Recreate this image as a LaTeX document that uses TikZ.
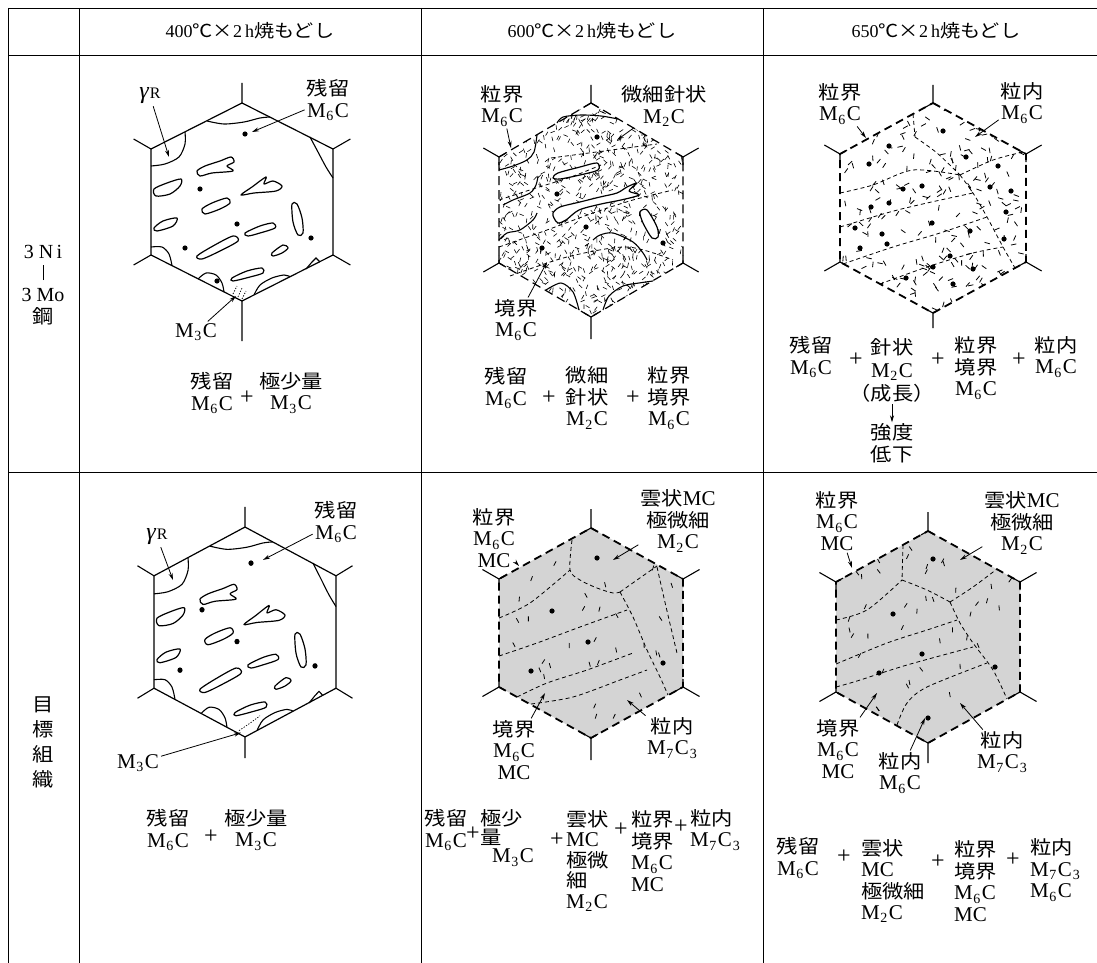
\documentclass[tikz,border=0pt]{standalone}
\usepackage{fontspec}
\setmainfont{Liberation Serif}
\newfontfamily\jp{Noto Sans CJK JP}[FakeStretch=1.12]
\usetikzlibrary{arrows.meta,calc}

% carbide formulas
\newcommand\carb[1]{{\rmfamily\fontsize{21}{21}\selectfont M\kern.5pt\raisebox{-.35ex}{\fontsize{14}{14}\selectfont#1}\kern1.5pt C}}
\newcommand\carbb[2]{{\rmfamily\fontsize{21}{21}\selectfont M\kern.5pt\raisebox{-.35ex}{\fontsize{14}{14}\selectfont#1}\kern1.5pt C\kern1pt\raisebox{-.35ex}{\fontsize{14}{14}\selectfont#2}}}
\newcommand\mc{{\rmfamily\fontsize{21}{21}\selectfont MC}}

% hexagonal grain: half width, half height, corner offset
\newcommand\hexat[3]{%
  \coordinate (T) at (0,-#2); \coordinate (UR) at (#1,-#3);
  \coordinate (LR) at (#1,#3); \coordinate (B) at (0,#2);
  \coordinate (LL) at (-#1,#3); \coordinate (UL) at (-#1,-#3);}
% neighbouring grain boundaries at the six triple points
\newcommand\stubs[2]{%
  \draw[stub] (T) -- ++(0,-#1) (UR) -- ++(0.87*#1,-0.5*#1) (LR) -- ++(0.87*#1,0.5*#1)
    (B) -- ++(0,#2) (LL) -- ++(-0.87*#1,0.5*#1) (UL) -- ++(-0.87*#1,-0.5*#1);}
\newcommand\joints{%
  \draw[stub] ($(T)!8pt!(UL)$) -- (T) -- ($(T)!8pt!(UR)$)
    ($(UR)!8pt!(T)$) -- (UR) -- ($(UR)!8pt!(LR)$)
    ($(LR)!8pt!(UR)$) -- (LR) -- ($(LR)!8pt!(B)$)
    ($(B)!8pt!(LR)$) -- (B) -- ($(B)!8pt!(LL)$)
    ($(LL)!8pt!(B)$) -- (LL) -- ($(LL)!8pt!(UL)$)
    ($(UL)!8pt!(LL)$) -- (UL) -- ($(UL)!8pt!(T)$);}
\newcommand\hexpath{(T)--(UR)--(LR)--(B)--(LL)--(UL)--cycle}

% retained austenite islands and corner patches of the lath grain
\newcommand\lathgrain{%
  \draw[isl] plot[smooth cycle] coordinates {(-45,-31) (-37,-36) (-22,-41) (-11,-45) (-8,-40) (-15,-36) (-9,-31) (-30,-29) (-42,-26)};
  \draw[isl] plot[smooth cycle] coordinates {(-1,-7) (10,-15) (24,-25) (22,-18) (31,-21) (40,-16) (34,-11) (12,-9)};
  \draw[isl] plot[smooth cycle] coordinates {(-88,-13) (-75,-19) (-61,-23) (-62,-16) (-72,-8) (-86,-6)};
  \draw[isl] plot[smooth cycle] coordinates {(-40,7) (-30,1) (-15,-4) (-12,1) (-22,7) (-37,12)};
  \draw[isl] plot[smooth cycle] coordinates {(-88,26) (-79,19) (-65,16) (-69,24) (-85,29)};
  \draw[isl] plot[smooth cycle] coordinates {(3,31) (18,24) (31,21) (33,26) (18,31) (6,34)};
  \draw[isl] plot[smooth cycle] coordinates {(50,2) (55,2) (60,16) (61,31) (56,33) (51,20)};
  \draw[isl] plot[smooth cycle] coordinates {(-45,54) (-29,44) (-9,34) (-4,39) (-22,49) (-40,57)};
  \draw[isl] plot[smooth cycle] coordinates {(30,51) (41,43) (46,46) (40,51) (31,54)};
  \draw[isl] plot[smooth cycle] coordinates {(-10,76) (5,69) (20,66) (21,71) (8,75) (-9,79)};
  \draw[cpatch] plot[smooth] coordinates {(-57,-70) (-57,-58) (-63,-45) (-77,-38) (-91,-36)};
  \draw[cpatch] plot[smooth] coordinates {(-35,-81) (-18,-78) (2,-80) (18,-84) (28,-85)};
  \draw[cpatch] plot[smooth] coordinates {(68,-65) (76,-50) (84,-35) (91,-24)};
  \draw[cpatch] (64,67) -- (70,60) -- (74,56) -- (78,60);
  \draw[cpatch] plot[smooth] coordinates {(-91,45) (-80,45) (-73,52) (-70,63.6)};
  \draw[cpatch] plot[smooth] coordinates {(-44,77) (-36,71) (-26,73) (-20,81) (-18,90)};
  \draw[cpatch] plot[smooth] coordinates {(12,93) (18,83) (30,76) (42,73) (48,74.7)};}

\tikzset{
  tline/.style={line width=0.9pt},
  gline/.style={line width=1.2pt, line join=round},
  stub/.style={line width=1.1pt},
  cpatch/.style={line width=1.1pt},
  isl/.style={line width=1.2pt, line join=round},
  dhex/.style={line width=1.2pt, dash pattern=on 9pt off 5pt},
  dhexb/.style={line width=1.8pt, dash pattern=on 8pt off 5pt},
  fine/.style={line width=0.8pt, dash pattern=on 4pt off 3pt},
  needle/.style={line width=0.6pt},
  speck/.style={line width=0.8pt},
  arr/.style={line width=0.8pt, -{Stealth[length=7pt,width=4pt]}, shorten <=1pt},
  lbl/.style={font=\jp\fontsize{19}{21.5}\selectfont, inner sep=1pt, align=center},
  lbll/.style={font=\jp\fontsize{19}{21.5}\selectfont, inner sep=1pt, align=left},
  plus/.style={font=\rmfamily\fontsize{24}{24}\selectfont, inner sep=0pt},
  hd/.style={font=\jp\fontsize{18}{20}\selectfont, inner sep=0pt},
}

\begin{document}
\begin{tikzpicture}[x=1pt,y=-1pt]
\useasboundingbox (0,0) rectangle (1097,963);
\fill[white] (0,0) rectangle (1097,963);

% ---------------- table rules ----------------
\draw[tline] (8,8) -- (1097,8) (8,55) -- (1097,55) (8,472) -- (1097,472);
\draw[tline] (8,8) -- (8,963) (79,8) -- (79,963) (421,8) -- (421,963) (763,8) -- (763,963);

% ---------------- headings ----------------
\node[hd] (h1) at (250,31) {{\rmfamily 400}℃×{\rmfamily 2\,h}焼もどし};
\node[hd] (h2) at (592,31) {{\rmfamily 600}℃×{\rmfamily 2\,h}焼もどし};
\node[hd] (h3) at (936,31) {{\rmfamily 650}℃×{\rmfamily 2\,h}焼もどし};
\node[lbl] (alloy) at (43,285) {{\rmfamily\fontsize{20}{20}\selectfont 3 N\,i}\\\rule{0.7pt}{15pt}\\{\rmfamily\fontsize{20}{20}\selectfont 3 Mo}\\鋼};
\node[lbl, font=\jp\fontsize{19}{25}\selectfont] (goal) at (43,742) {目\\標\\組\\織};

% =============== 400 C, 3Ni-3Mo ===============
\begin{scope}[shift={(242,202)}]
  \hexat{91}{99}{53}
  \draw[gline] \hexpath;
  \stubs{20}{40}
  \lathgrain
  \foreach \p in {(3,-68),(-42,-13),(-5,22),(-57,46),(-25,79),(69,36)} \fill \p circle (2.6pt);
  \draw[line width=0.7pt, dash pattern=on 1.3pt off 1.5pt] (-9,92) -- (-5,84) (-4,95) -- (0,86) (0,97) -- (4,89);
  \coordinate (g1t) at (-73,-45);
  \coordinate (r1t) at (10,-70);
  \coordinate (m1t) at (-6,94);
\end{scope}
\node[inner sep=1pt] (gam1) at (150,96) {{\rmfamily\itshape\fontsize{24}{24}\selectfont γ}\kern1pt{\rmfamily\fontsize{16}{16}\selectfont R}};
\draw[arr] (gam1) -- (g1t);
\node[lbl] (res1) at (328,100) {残留\\\carb{6}};
\draw[arr] (res1) -- (r1t);
\node[lbl] (m31) at (196,332) {\carb{3}};
\draw[arr] (m31) -- (m1t);
\node[lbl] (f1a) at (212,393) {残留\\\carb{6}};
\node[plus] (f1p) at (247,398) {+};
\node[lbl] (f1b) at (291,393) {極少量\\\carb{3}};

% =============== 600 C, 3Ni-3Mo ===============
\begin{scope}[shift={(591,210)}]
  \hexat{92}{107}{53}
  \begin{scope}
    \clip \hexpath;
    \pgfmathsetseed{21}
    \foreach \k in {1,...,1000}{%
      \pgfmathsetmacro\rx{92*rand}%
      \pgfmathsetmacro\ry{107*rand}%
      \pgfmathsetmacro\ra{90+70*rand}%
      \draw[needle] (\rx,\ry) -- ++(\ra:4.5);}
  \end{scope}
  \draw[dhex] \hexpath;
  \joints
  \stubs{18}{22}
  % precipitate-free islands and boundary films
  \draw[isl, fill=white] plot[smooth cycle] coordinates {(-38,-32) (-33,-37) (-11,-43) (6,-47) (7,-40) (-11,-35) (-31,-31)};
  \draw[isl, fill=white] plot[smooth cycle] coordinates {(-38,3) (-31,-3) (-11,-8) (9,-13) (26,-17) (36,-23) (46,-27) (38,-19) (48,-15) (30,-10) (10,-6) (-12,0) (-25,10) (-33,13) (-37,8)};
  \draw[isl, fill=white] plot[smooth cycle] coordinates {(49,2) (56,0) (66,17) (67,27) (61,28) (52,13)};
  \draw[cpatch] plot[smooth] coordinates {(-34,-87) (-28,-93) (-10,-95) (10,-94) (27,-91)};
  \draw[cpatch] plot[smooth] coordinates {(-92,-40) (-78,-44) (-64,-50) (-57,-58) (-54,-75)};
  \draw[cpatch] plot[smooth] coordinates {(-88,-5) (-78,-10) (-61,-17) (-55,-25) (-53,-34)};
  \draw[cpatch] plot[smooth] coordinates {(2,30) (9,25) (22,23) (42,32) (52,43) (56,50)};
  \draw[cpatch] plot[smooth] coordinates {(-92,30) (-84,23) (-71,20) (-58,10) (-54,3)};
  \draw[cpatch] plot[smooth] coordinates {(-45,80) (-30,73) (-18,82) (-12,100)};
  \draw[cpatch] plot[smooth] coordinates {(12,100) (18,86) (32,76) (48,73) (62,71)};
  % sub-boundaries
  \draw[fine] (-40,-52) -- (66,-66);
  \draw[fine] plot[smooth] coordinates {(-92,-10) (-55,-22) (-20,-33) (10,-45)};
  \draw[fine] plot[smooth] coordinates {(-92,37) (-44,20) (2,3) (42,-10) (82,-20)};
  \draw[fine] plot[smooth] coordinates {(-81,66) (-24,47) (36,37) (82,50)};
  \foreach \p in {(6,-73),(-34,-16),(-5,17),(-49,38),(72,33)} \fill \p circle (2.6pt);
  \coordinate (gb2t) at (-80,-62);
  \coordinate (nd2t) at (26,-70);
  \coordinate (bd2t) at (-44,52);
\end{scope}
\node[lbl] (gb2) at (502,106) {粒界\\\carb{6}};
\draw[arr] (gb2) -- (gb2t);
\node[lbl] (nd2) at (664,106) {微細針状\\\carb{2}};
\draw[arr] (nd2) -- (nd2t);
\node[lbl] (bd2) at (516,320) {境界\\\carb{6}};
\draw[arr] (bd2) -- (bd2t);
\node[lbl] (f2a) at (506,388) {残留\\\carb{6}};
\node[plus] (f2p1) at (549,398) {+};
\node[lbl] (f2b) at (587,398) {微細\\針状\\\carb{2}};
\node[plus] (f2p2) at (633,398) {+};
\node[lbl] (f2c) at (669,398) {粒界\\境界\\\carb{6}};

% =============== 650 C, 3Ni-3Mo ===============
\begin{scope}[shift={(933,208)}]
  \hexat{93}{105}{54}
  \begin{scope}
    \clip \hexpath;
    \pgfmathsetseed{5}
    \foreach \k in {1,...,230}{%
      \pgfmathsetmacro\rx{90*rand}%
      \pgfmathsetmacro\ry{102*rand}%
      \pgfmathsetmacro\ra{90+80*rand}%
      \draw[speck] (\rx,\ry) -- ++(\ra:5.5);}
  \end{scope}
  \draw[fine] (-20,-94) -- (-18,-71);
  \draw[fine] plot[smooth] coordinates {(-18,-71) (4,-55) (27,-33)};
  \draw[fine] plot[smooth] coordinates {(27,-33) (60,-48) (90,-56)};
  \draw[fine] plot[smooth] coordinates {(-93,-15) (-60,-23) (-20,-38) (27,-33)};
  \draw[fine] plot[smooth] coordinates {(27,-33) (40,-15) (54,9) (70,39) (82,60)};
  \draw[fine] plot[smooth] coordinates {(-93,19) (-43,4) (-6,-5) (40,-15)};
  \draw[fine] plot[smooth] coordinates {(-90,56) (-40,39) (7,25) (54,9)};
  \draw[fine] plot[smooth] coordinates {(-53,76) (-6,59) (40,45) (70,39)};
  \draw[dhexb] \hexpath;
  \joints
  \stubs{18}{15}
  \foreach \p in {(10,-77),(-44,-62),(-64,-44),(33,-51),(65,-42),(-30,-19),(-11,-22),(57,-21),(78,-17),(-62,-1),(-44,-5),(73,4),(-78,20),(-1,15),(-51,26),(37,23),(-46,36),(-73,40),(71,31),(17,48),(0,59),(40,61),(-27,70),(20,76)} \fill \p circle (2.6pt);
  \coordinate (gb3t) at (-67,-70);
  \coordinate (in3t) at (42,-71);
\end{scope}
\node[lbl] (gb3) at (840,104) {粒界\\\carb{6}};
\draw[arr] (gb3) -- (gb3t);
\node[lbl] (in3) at (1022,103) {粒内\\\carb{6}};
\draw[arr] (in3) -- (in3t);
\node[lbl] (f3a) at (811,357) {残留\\\carb{6}};
\node[plus] (f3p1) at (856,360) {+};
\node[lbl, font=\jp\fontsize{19}{23}\selectfont] (f3b) at (892,370) {針状\\\carb{2}\\（成長）};
\node[lbl] (str3) at (892,443) {強度\\低下};
\draw[arr] (f3b) -- (str3);
\node[plus] (f3p2) at (938,360) {+};
\node[lbl] (f3c) at (976,368) {粒界\\境界\\\carb{6}};
\node[plus] (f3p3) at (1019,360) {+};
\node[lbl] (f3d) at (1056,357) {粒内\\\carb{6}};

% =============== 400 C, target ===============
\begin{scope}[shift={(245,632)}, yscale=1.06]
  \hexat{91}{99}{53}
  \draw[gline] \hexpath;
  \stubs{19}{20}
  \lathgrain
  \foreach \p in {(6,-65),(-43,-21),(-8,9),(-65,36),(70,32)} \fill \p circle (2.6pt);
  \draw[line width=0.7pt, dash pattern=on 1.3pt off 1.5pt] plot[smooth] coordinates {(-6,93) (5,86) (15,79)};
  \coordinate (g2t) at (-72,-49);
  \coordinate (r2t) at (18,-68);
  \coordinate (m2t) at (-4,95);
\end{scope}
\node[inner sep=1pt] (gam2) at (157,537) {{\rmfamily\itshape\fontsize{24}{24}\selectfont γ}\kern1pt{\rmfamily\fontsize{16}{16}\selectfont R}};
\draw[arr] (gam2) -- (g2t);
\node[lbl] (res2) at (336,522) {残留\\\carb{6}};
\draw[arr] (res2) -- (r2t);
\node[lbl] (m32) at (138,763) {\carb{3}};
\draw[arr] (m32) -- (m2t);
\node[lbl] (f4a) at (168,830) {残留\\\carb{6}};
\node[plus] (f4p) at (211,837) {+};
\node[lbl] (f4b) at (256,830) {極少量\\\carb{3}};

% =============== 600 C, target ===============
\begin{scope}[shift={(591,633)}]
  \hexat{92}{105}{54}
  \fill[black!17] \hexpath;
  \begin{scope}
    \clip \hexpath;
    \pgfmathsetseed{8}
    \foreach \k in {1,...,35}{%
      \pgfmathsetmacro\rx{85*rand}%
      \pgfmathsetmacro\ry{95*rand}%
      \pgfmathsetmacro\ra{90+40*rand}%
      \draw[speck] (\rx,\ry) -- ++(\ra:5);}
  \end{scope}
  \draw[fine] plot[smooth] coordinates {(-19,-93) (-21,-63) (-11,-53) (6,-45) (22,-40) (29,-41)};
  \draw[fine] plot[smooth] coordinates {(29,-41) (46,-53) (66,-67)};
  \draw[fine] plot[smooth] coordinates {(-92,-15) (-61,-30) (-21,-63)};
  \draw[fine] plot[smooth] coordinates {(29,-41) (42,-16) (56,17) (69,44) (77,62)};
  \draw[fine] plot[smooth] coordinates {(-92,23) (-54,10) (-11,-6) (36,-23)};
  \draw[fine] plot[smooth] coordinates {(-74,64) (-44,50) (-4,37) (42,20)};
  \draw[fine] plot[smooth] coordinates {(-60,71) (-18,64) (29,47) (56,37)};
  \draw[fine] plot[smooth] coordinates {(66,-66) (73,-35) (80,-5) (86,20)};
  \draw[dhexb] \hexpath;
  \joints
  \stubs{19}{22}
  \foreach \p in {(6,-75),(-39,-22),(-3,9),(-60,38),(72,30)} \fill \p circle (2.6pt);
  \coordinate (gb4t) at (-72,-67);
  \coordinate (cl4t) at (22,-73);
  \coordinate (bd4t) at (-46,60);
  \coordinate (in4t) at (36,67);
\end{scope}
\node[lbl] (gb4) at (494,538) {粒界\\\carb{6}\\\mc};
\draw[arr] (gb4) -- (gb4t);
\node[lbl] (cl4) at (678,521) {雲状\mc\\極微細\\\carb{2}};
\draw[arr] (cl4) -- (cl4t);
\node[lbl] (bd4) at (514,750) {境界\\\carb{6}\\\mc};
\draw[arr] (bd4) -- (bd4t);
\node[lbl] (in4) at (672,738) {粒内\\\carbb{7}{3}};
\draw[arr] (in4) -- (in4t);
\node[lbl] (f5a) at (446,830) {残留\\\carb{6}};
\node[plus] (f5p1) at (473,834) {+};
\node[lbll, font=\jp\fontsize{19}{18.5}\selectfont, anchor=west] (f5b) at (479,838) {極少\\量\\\hspace{12pt}\carb{3}};
\node[plus] (f5p2) at (557,840) {+};
\node[lbll, font=\jp\fontsize{19}{20.5}\selectfont, anchor=west] (f5c) at (565,861) {雲状\\\mc\\極微\\細\\\carb{2}};
\node[plus] (f5p3) at (621,830) {+};
\node[lbll, anchor=west] (f5d) at (630,851) {粒界\\境界\\\carb{6}\\\mc};
\node[plus] (f5p4) at (681,827) {+};
\node[lbll, anchor=west] (f5e) at (689,830) {粒内\\\carbb{7}{3}};

% =============== 650 C, target ===============
\begin{scope}[shift={(928,637)}]
  \hexat{92}{106}{55}
  \fill[black!17] \hexpath;
  \begin{scope}
    \clip \hexpath;
    \pgfmathsetseed{13}
    \foreach \k in {1,...,45}{%
      \pgfmathsetmacro\rx{85*rand}%
      \pgfmathsetmacro\ry{95*rand}%
      \pgfmathsetmacro\ra{90+40*rand}%
      \draw[speck] (\rx,\ry) -- ++(\ra:5);}
  \end{scope}
  \draw[fine] (-25,-92) -- (-26,-57);
  \draw[fine] plot[smooth] coordinates {(-92,-17) (-61,-27) (-26,-57)};
  \draw[fine] plot[smooth] coordinates {(-26,-57) (-1,-47) (22,-35)};
  \draw[fine] plot[smooth] coordinates {(22,-35) (45,-50) (69,-68)};
  \draw[fine] plot[smooth] coordinates {(22,-35) (32,-14) (45,6) (65,33) (79,62)};
  \draw[fine] plot[smooth] coordinates {(-92,27) (-41,6) (-1,-7) (29,-17)};
  \draw[fine] plot[smooth] coordinates {(-92,50) (-71,44) (-21,28) (45,10)};
  \draw[fine] plot[smooth] coordinates {(-31,88) (-21,66) (-1,50) (59,26)};
  \draw[dhexb] \hexpath;
  \joints
  \stubs{19}{20}
  \foreach \p in {(5,-78),(-35,-23),(-6,17),(-49,36),(67,30),(0,81)} \fill \p circle (2.6pt);
  \coordinate (gb5t) at (-76,-69);
  \coordinate (cl5t) at (32,-77);
  \coordinate (bd5t) at (-51,56);
  \coordinate (in5at) at (-3,81);
  \coordinate (in5bt) at (32,66);
\end{scope}
\node[lbl] (gb5) at (837,521) {粒界\\\carb{6}\\\mc};
\draw[arr] (gb5) -- (gb5t);
\node[lbl] (cl5) at (1022,523) {雲状\mc\\極微細\\\carb{2}};
\draw[arr] (cl5) -- (cl5t);
\node[lbl] (bd5) at (838,749) {境界\\\carb{6}\\\mc};
\draw[arr] (bd5) -- (bd5t);
\node[lbl] (in5a) at (900,773) {粒内\\\carb{6}};
\draw[arr] (in5a) -- (in5at);
\node[lbl] (in5b) at (1002,752) {粒内\\\carbb{7}{3}};
\draw[arr] (in5b) -- (in5bt);
\node[lbl] (f6a) at (798,858) {残留\\\carb{6}};
\node[plus] (f6p1) at (844,857) {+};
\node[lbll, anchor=west] (f6b) at (860,881) {雲状\\\mc\\極微細\\\carb{2}};
\node[plus] (f6p2) at (938,862) {+};
\node[lbll, anchor=west] (f6c) at (953,881) {粒界\\境界\\\carb{6}\\\mc};
\node[plus] (f6p3) at (1013,860) {+};
\node[lbll, anchor=west] (f6d) at (1029,870) {粒内\\\carbb{7}{3}\\\carb{6}};
\end{tikzpicture}
\end{document}
